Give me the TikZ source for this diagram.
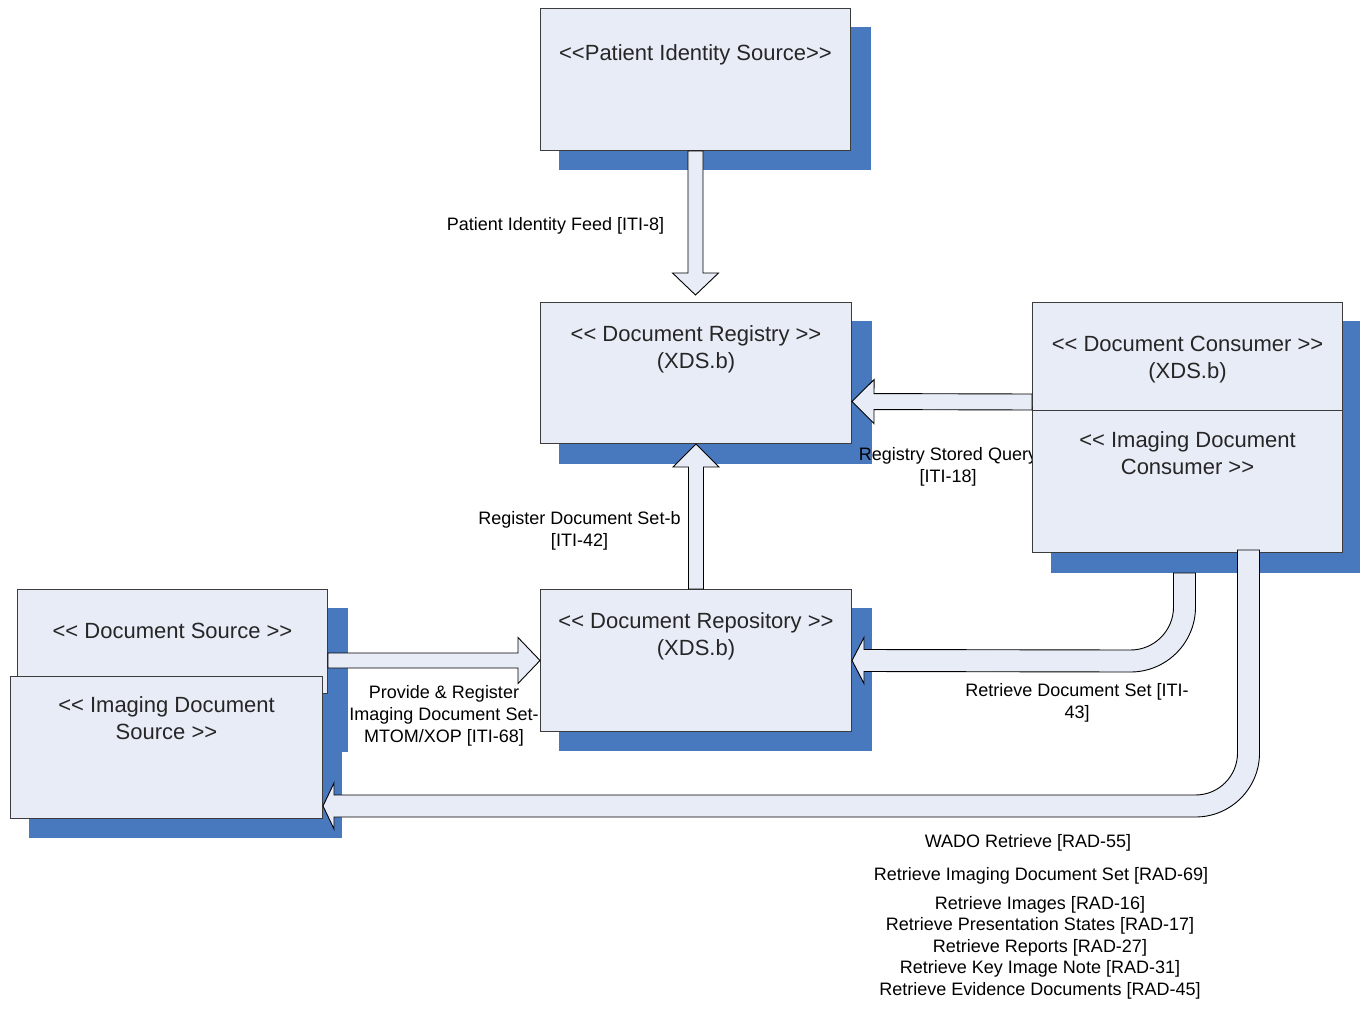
\documentclass[tikz,border=0pt]{standalone}
\usepackage{fontspec}
\setmainfont{Liberation Sans}[Ligatures=TeXOff]
\usetikzlibrary{calc}

\definecolor{boxfill}{RGB}{232,236,247}
\definecolor{shadowblue}{RGB}{72,121,190}
\definecolor{boxline}{RGB}{60,60,60}

\pgfdeclarelayer{background}
\pgfsetlayers{background,main}

\tikzset{
  box/.style={draw=boxline, fill=boxfill, line width=1pt, rectangle, inner sep=0pt, anchor=north west},
  boxtext/.style={font=\fontsize{22}{27}\selectfont, align=center, anchor=north, inner sep=0pt, text=black!85},
  lbl/.style={font=\fontsize{18}{22}\selectfont, align=center, anchor=north, inner sep=0pt, text=black},
  barrow/.style={draw=black, fill=boxfill, line width=0.9pt, line join=miter},
}

% straight block arrow: start, tip, half shaft width, half head width, head length
\newcommand\blockarrow[5]{%
  \path[barrow] let \p1=(#1), \p2=(#2),
    \n1={veclen(\x2-\x1,\y2-\y1)}, \n2={atan2(\y2-\y1,\x2-\x1)} in
    [shift={(\p1)}, rotate=\n2]
    (0pt,#3pt) -- (\n1-#5pt,#3pt) -- (\n1-#5pt,#4pt) -- (\n1,0pt)
    -- (\n1-#5pt,-#4pt) -- (\n1-#5pt,-#3pt) -- (0pt,-#3pt) -- cycle;}

\begin{document}
\begin{tikzpicture}[x=1pt,y=-1pt]
\useasboundingbox (0,0) rectangle (1360,1009);

% actors
\node[box, minimum width=310pt, minimum height=142pt] (pis) at (540,8) {};
\node[box, minimum width=311pt, minimum height=141pt] (reg) at (540,302) {};
\node[box, minimum width=311pt, minimum height=142pt] (rep) at (540,589) {};
\node[box, minimum width=310pt, minimum height=108pt] (cons) at (1032,302) {};
\node[box, minimum width=310pt, minimum height=142pt] (icons) at (1032,410) {};
\node[box, minimum width=310pt, minimum height=104pt] (ds) at (17,589) {};
\node[box, minimum width=312pt, minimum height=142pt] (ids) at (10,676) {};

% drop shadows
\begin{pgfonlayer}{background}
  \fill[shadowblue] ($(pis.north west)+(19,19)$) rectangle ($(pis.south east)+(20,19)$);
  \fill[shadowblue] ($(reg.north west)+(19,19)$) rectangle ($(reg.south east)+(20,20)$);
  \fill[shadowblue] ($(rep.north west)+(19,19)$) rectangle ($(rep.south east)+(20,19)$);
  \fill[shadowblue] ($(cons.north west)+(19,19)$) rectangle ($(icons.south east)+(18,20)$);
  \fill[shadowblue] ($(ds.north west)+(19,19)$) rectangle ($(ds.south east)+(20,58)$);
  \fill[shadowblue] ($(ids.north west)+(19,19)$) rectangle ($(ids.south east)+(19,19)$);
  \node[lbl] (lsq) at (948,445) {\strut Registry Stored Query\\{}[ITI-18]};
\end{pgfonlayer}

% actor names
\node[boxtext] (pist) at ($(pis.north)+(0,33)$) {\strut<<Patient Identity Source>>};
\node[boxtext] (regt) at ($(reg.north)+(0,20)$) {\strut<< Document Registry >>\\(XDS.b)};
\node[boxtext] (const) at ($(cons.north)+(0,30)$) {\strut<< Document Consumer >>\\(XDS.b)};
\node[boxtext] (iconst) at ($(icons.north)+(0,18)$) {\strut<< Imaging Document\\Consumer >>};
\node[boxtext] (dst) at ($(ds.north)+(0,30)$) {\strut<< Document Source >>};
\node[boxtext] (idst) at ($(ids.north)+(0,17)$) {\strut<< Imaging Document\\Source >>};
\node[boxtext] (rept) at ($(rep.north)+(0,20)$) {\strut<< Document Repository >>\\(XDS.b)};

% straight transactions
\blockarrow{pis.south}{$(reg.north)+(-0.5,-7)$}{7.5}{23}{22}
\blockarrow{rep.north}{reg.south}{7.5}{23}{23}
\blockarrow{$(cons.south west)+(0,-9)$}{$(reg.east)+(0,28.5)$}{8}{22}{22}
\blockarrow{$(ds.east)+(0,19)$}{rep.west}{7.5}{23}{22}

% Retrieve Document Set: consumer down and over to the repository
\path[barrow]
  ($(icons.south)+(-14,20)$) -- ++(0,34)
  arc[start angle=0, end angle=90, radius=43]
  -- ($(rep.east)+(12,-11)$) -- ++(0,-12) -- (rep.east)
  -- ($(rep.east)+(12,23)$) -- ++(0,-12)
  -- ($(icons.south)+(-57,119)$)
  arc[start angle=90, end angle=0, radius=65]
  -- ($(icons.south)+(8,20)$) -- cycle;

% WADO / imaging retrieve: consumer down and back to the imaging source
\coordinate (wtip) at ($(ids.south east)+(0,-13)$);
\path[barrow]
  ($(icons.south)+(50,-3)$) -- ++(0,203)
  arc[start angle=0, end angle=90, radius=42]
  -- ($(wtip)+(11,-11)$) -- ++(0,-12) -- (wtip)
  -- ($(wtip)+(11,23)$) -- ++(0,-12)
  -- ($(icons.south)+(8,264)$)
  arc[start angle=90, end angle=0, radius=64]
  -- ($(icons.south)+(72,-3)$) -- cycle;

% transaction labels
\node[lbl] (lfeed) at (555.5,215) {\strut Patient Identity Feed [ITI-8]};
\node[lbl] (lreg) at (579.5,509) {\strut Register Document Set-b\\{}[ITI-42]};
\node[lbl] (lprov) at (444,683) {\strut Provide \& Register\\Imaging Document Set-\\MTOM/XOP [ITI-68]};
\node[lbl] (lret) at (1077,681) {\strut Retrieve Document Set [ITI-\\43]};
\node[lbl] (lwado) at (1028,831.6) {\strut WADO Retrieve [RAD-55]};
\node[lbl] (lrad69) at (1041,864.6) {\strut Retrieve Imaging Document Set [RAD-69]};
\node[lbl, font=\fontsize{18}{21.5}\selectfont] (lrad) at (1040,894)
  {\strut Retrieve Images [RAD-16]\\Retrieve Presentation States [RAD-17]\\Retrieve Reports [RAD-27]\\Retrieve Key Image Note [RAD-31]\\Retrieve Evidence Documents [RAD-45]};
\end{tikzpicture}
\end{document}
